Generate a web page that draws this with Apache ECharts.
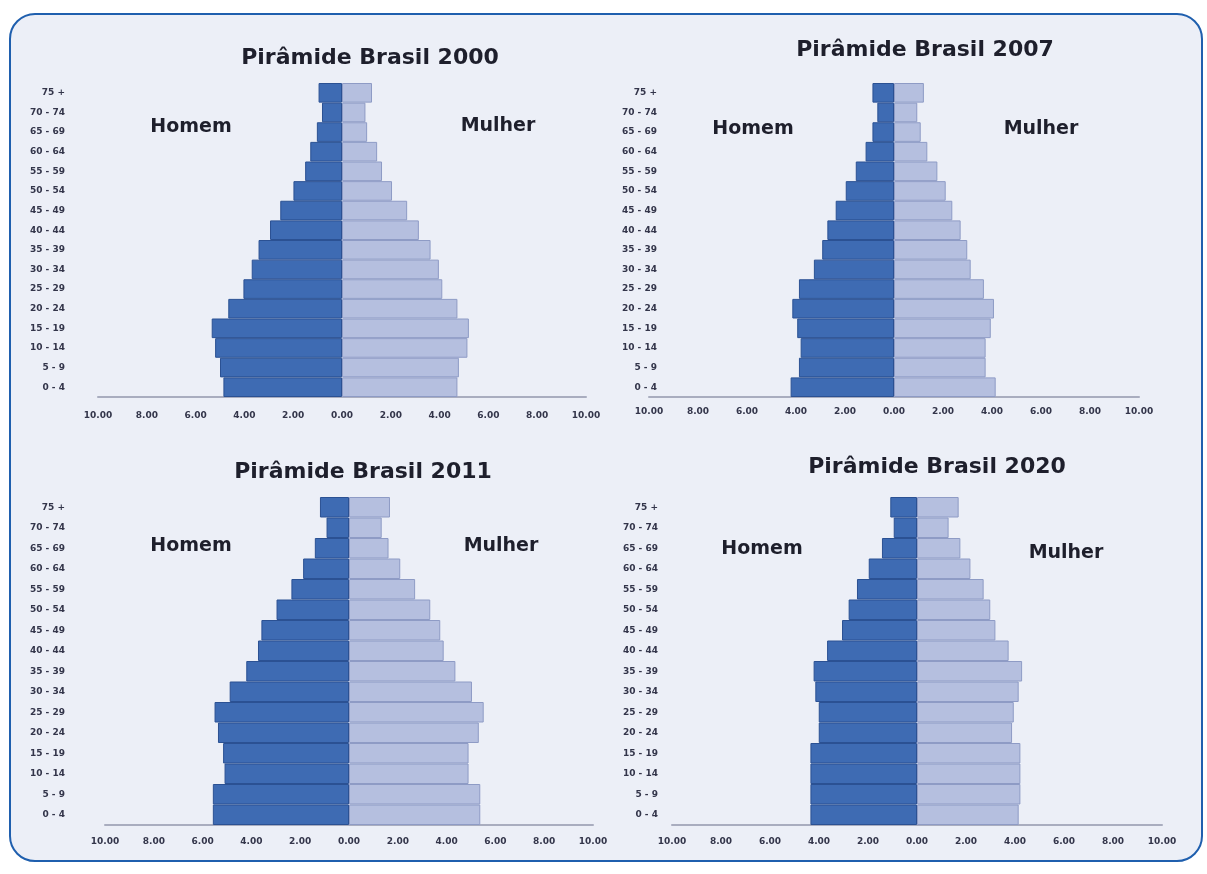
<!DOCTYPE html>
<html>
<head>
<meta charset="utf-8">
<script src="https://cdn.jsdelivr.net/npm/echarts@6/dist/echarts.min.js"></script>
<style>
  html, body { margin: 0; padding: 0; background: #ffffff; }
  #panel { position: absolute; left: 9px; top: 13px; width: 1194px; height: 849px;
           background: #eceff7; border: 2px solid #1f5fae; border-radius: 26px; box-sizing: border-box; }
  #chart { position: absolute; left: 0; top: 0; width: 1207px; height: 874px; }
</style>
</head>
<body>
<div id="panel"></div>
<div id="chart"></div>
<script>
// Age groups, bottom to top
var ageGroups = ['0 - 4','5 - 9','10 - 14','15 - 19','20 - 24','25 - 29','30 - 34','35 - 39',
                 '40 - 44','45 - 49','50 - 54','55 - 59','60 - 64','65 - 69','70 - 74','75 +'];
var xTicks = [-10, -8, -6, -4, -2, 0, 2, 4, 6, 8, 10];
var titles = ['Pirâmide Brasil 2000', 'Pirâmide Brasil 2007', 'Pirâmide Brasil 2011', 'Pirâmide Brasil 2020'];
var sexLabels = ['Homem', 'Mulher'];

// percentages (%), bottom (0-4) to top (75+)
var homem2000  = [4.86, 5.00, 5.20, 5.34, 4.66, 4.04, 3.70, 3.42, 2.95, 2.53, 1.99, 1.51, 1.30, 1.03, 0.82, 0.96];
var mulher2000 = [4.73, 4.79, 5.14, 5.20, 4.73, 4.11, 3.97, 3.63, 3.15, 2.67, 2.05, 1.64, 1.44, 1.03, 0.96, 1.23];
var homem2007  = [4.22, 3.88, 3.81, 3.95, 4.15, 3.88, 3.27, 2.93, 2.72, 2.38, 1.97, 1.56, 1.16, 0.88, 0.68, 0.88];
var mulher2007 = [4.15, 3.74, 3.74, 3.95, 4.08, 3.67, 3.13, 2.99, 2.72, 2.38, 2.11, 1.77, 1.36, 1.09, 0.95, 1.22];
var homem2011  = [5.58, 5.58, 5.10, 5.16, 5.37, 5.51, 4.89, 4.21, 3.73, 3.59, 2.97, 2.36, 1.88, 1.40, 0.92, 1.19];
var mulher2011 = [5.38, 5.38, 4.90, 4.90, 5.32, 5.52, 5.04, 4.36, 3.88, 3.74, 3.33, 2.71, 2.10, 1.62, 1.34, 1.68];
var homem2020  = [4.35, 4.35, 4.35, 4.35, 4.01, 4.01, 4.15, 4.22, 3.67, 3.06, 2.79, 2.45, 1.97, 1.43, 0.95, 1.09];
var mulher2020 = [4.15, 4.22, 4.22, 4.22, 3.88, 3.95, 4.15, 4.29, 3.74, 3.20, 2.99, 2.72, 2.18, 1.77, 1.29, 1.70];

var homens = [homem2000, homem2007, homem2011, homem2020];
var mulheres = [mulher2000, mulher2007, mulher2011, mulher2020];

var layout = [
  { grid: {left: 98,  top: 83,  width: 488, height: 314}, title: [370, 58], h: [191, 127], m: [498, 126], yMargin: 33, xMargin: 14 },
  { grid: {left: 649, top: 83,  width: 490, height: 314}, title: [925, 50], h: [753, 129], m: [1041, 129], yMargin: -8, xMargin: 10 },
  { grid: {left: 105, top: 497, width: 488, height: 328}, title: [363, 472], h: [191, 546], m: [501, 546], yMargin: 40, xMargin: 12 },
  { grid: {left: 672, top: 497, width: 490, height: 328}, title: [937, 467], h: [762, 549], m: [1066, 553], yMargin: 14, xMargin: 12 }
];

var FONT = '"DejaVu Sans", sans-serif';
var grids = [], xAxes = [], yAxes = [], series = [], graphics = [];

layout.forEach(function (L, i) {
  grids.push(Object.assign({}, L.grid, {containLabel: false}));
  xAxes.push({
    type: 'value', gridIndex: i, min: xTicks[0], max: xTicks[xTicks.length - 1], interval: 2,
    axisLine: {show: true, lineStyle: {color: '#a9adbf', width: 2}},
    axisTick: {show: false},
    splitLine: {show: false},
    axisLabel: {
      color: '#33354a', fontFamily: FONT, fontWeight: 'bold', fontSize: 9, margin: L.xMargin,
      formatter: function (v) { return Math.abs(v).toFixed(2); }
    }
  });
  yAxes.push({
    type: 'category', gridIndex: i, data: ageGroups,
    axisLine: {show: false}, axisTick: {show: false}, splitLine: {show: false},
    axisLabel: {color: '#33354a', fontFamily: FONT, fontWeight: 'bold', fontSize: 9, margin: L.yMargin, interval: 0}
  });
  series.push({
    name: sexLabels[0], type: 'bar', xAxisIndex: i, yAxisIndex: i, stack: 'p' + i,
    barCategoryGap: '0%',
    data: homens[i].map(function (v) { return -v; }),
    itemStyle: {color: '#3e6bb3', borderColor: '#2b5193', borderWidth: 1},
    emphasis: {disabled: true}
  });
  series.push({
    name: sexLabels[1], type: 'bar', xAxisIndex: i, yAxisIndex: i, stack: 'p' + i,
    barCategoryGap: '0%',
    data: mulheres[i],
    itemStyle: {color: '#b5bfdf', borderColor: '#8e9bc5', borderWidth: 1},
    emphasis: {disabled: true}
  });
  graphics.push({
    type: 'text', x: L.title[0], y: L.title[1],
    style: {text: titles[i], fill: '#1e1f2c', font: 'bold 22px ' + FONT, align: 'center', verticalAlign: 'middle'}
  });
  graphics.push({
    type: 'text', x: L.h[0], y: L.h[1],
    style: {text: sexLabels[0], fill: '#1e1f2c', font: 'bold 19px ' + FONT, align: 'center', verticalAlign: 'middle'}
  });
  graphics.push({
    type: 'text', x: L.m[0], y: L.m[1],
    style: {text: sexLabels[1], fill: '#1e1f2c', font: 'bold 19px ' + FONT, align: 'center', verticalAlign: 'middle'}
  });
});

var chart = echarts.init(document.getElementById('chart'), null, {renderer: 'canvas'});
chart.setOption({
  backgroundColor: 'transparent',
  animation: false,
  grid: grids,
  xAxis: xAxes,
  yAxis: yAxes,
  series: series,
  graphic: graphics
});
</script>
</body>
</html>
